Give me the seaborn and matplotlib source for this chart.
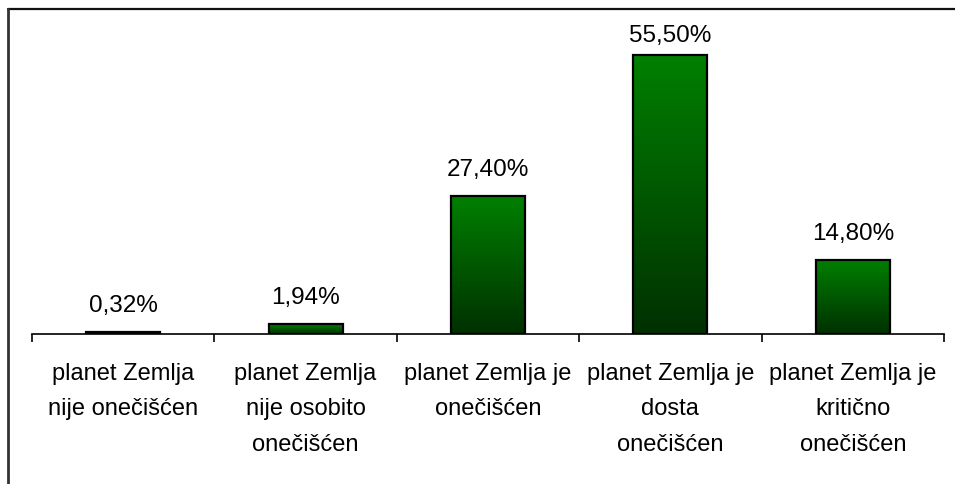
import numpy as np
import pandas as pd
import matplotlib
matplotlib.use("Agg")
import matplotlib.pyplot as plt
import seaborn as sns
from matplotlib.lines import Line2D
from matplotlib.colors import LinearSegmentedColormap

categories = [
    "planet Zemlja\nnije onečišćen",
    "planet Zemlja\nnije osobito\nonečišćen",
    "planet Zemlja je\nonečišćen",
    "planet Zemlja je\ndosta\nonečišćen",
    "planet Zemlja je\nkritično\nonečišćen",
]
values = [0.32, 1.94, 27.40, 55.50, 14.80]
value_labels = ["0,32%", "1,94%", "27,40%", "55,50%", "14,80%"]

sns.set_theme(style="white")
plt.rcParams["font.family"] = ["Liberation Sans", "DejaVu Sans"]

W, H = 955, 484
fig = plt.figure(figsize=(W / 100, H / 100), dpi=100)
ax_left, ax_right, ax_bottom, ax_top = 32, 944, 334, 9
ax = fig.add_axes([ax_left / W, 1 - ax_bottom / H, (ax_right - ax_left) / W, (ax_bottom - ax_top) / H])

df = pd.DataFrame({"cat": categories, "val": values})
sns.barplot(data=df, x="cat", y="val", ax=ax, color="#008000", width=0.405,
            edgecolor="black", linewidth=1.6, saturation=1)

px_per_unit = 5.03
ymax = (ax_bottom - ax_top) / px_per_unit
ax.set_ylim(0, ymax)
ax.set_xlim(-0.5, len(categories) - 0.5)

cmap = LinearSegmentedColormap.from_list("g", ["#003000", "#008000"])
grad = np.linspace(0, 1, 256).reshape(-1, 1)
for p in ax.patches:
    x0, y0 = p.get_x(), p.get_y()
    w, h = p.get_width(), p.get_height()
    ax.imshow(grad, extent=[x0, x0 + w, y0, y0 + h], origin="lower", cmap=cmap,
              aspect="auto", zorder=1.5, interpolation="bilinear")
    p.set_facecolor("none")
    p.set_zorder(2)

ax.set_ylim(0, ymax)
ax.set_xlim(-0.5, len(categories) - 0.5)

# value labels: baseline ~20 px above bar, but kept inside the chart area
for i, (v, lab) in enumerate(zip(values, value_labels)):
    bar_top_px = ax_bottom - v * px_per_unit
    gap_px = min(20.0, bar_top_px - 42.0)
    ax.annotate(lab, xy=(i, v), xytext=(0, gap_px * 0.72), textcoords="offset points",
                ha="center", va="baseline", fontsize=17.5, color="black")

for s in ["top", "right", "left"]:
    ax.spines[s].set_visible(False)
ax.spines["bottom"].set_color("black")
ax.spines["bottom"].set_linewidth(1.2)
ax.set_yticks([])
ax.set_xlabel("")
ax.set_ylabel("")
ax.set_xticks(range(len(categories)))
ax.set_xticklabels(categories, fontsize=17, linespacing=1.78, color="black", va="top")
ax.tick_params(axis="x", which="major", length=0, pad=21)
ax.set_xticks(np.arange(-0.5, len(categories), 1.0), minor=True)
ax.tick_params(axis="x", which="minor", length=6, width=1.2, color="black", bottom=True)

fig.add_artist(Line2D([8 / W, 1], [1 - 9 / H, 1 - 9 / H], color="#111111", linewidth=1.6,
                      transform=fig.transFigure))
fig.add_artist(Line2D([8 / W, 8 / W], [1 - 9 / H, 0], color="#333333", linewidth=2,
                      transform=fig.transFigure))

fig.savefig("out.png", dpi=100)
